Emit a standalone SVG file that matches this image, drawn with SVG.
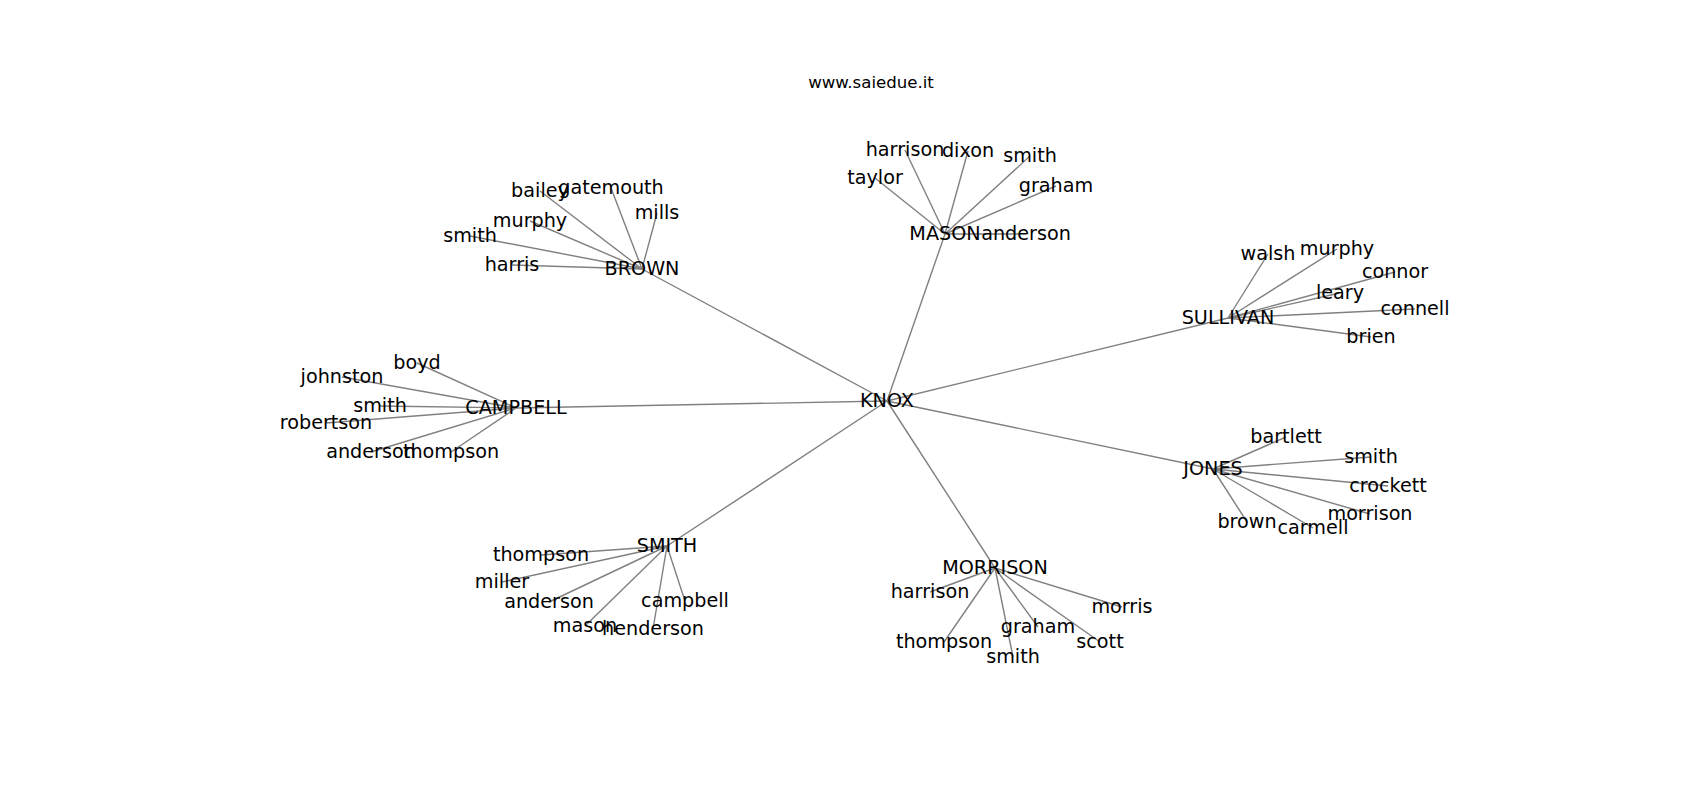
<svg xmlns="http://www.w3.org/2000/svg" width="1700" height="800" viewBox="0 0 1700 800">
<style>
text{font-family:"DejaVu Sans","Liberation Sans",sans-serif;font-size:19.2px;fill:#000;text-anchor:middle}
.title{font-size:16.6px}
#edges line{stroke:#808080;stroke-width:1.4}
</style>
<rect width="1700" height="800" fill="#fff"/>
<text class="title" x="871" y="88">www.saiedue.it</text>
<g id="edges">
<line x1="887" y1="401" x2="642" y2="269"/>
<line x1="887" y1="401" x2="945" y2="234"/>
<line x1="887" y1="401" x2="1228" y2="318"/>
<line x1="887" y1="401" x2="516" y2="408"/>
<line x1="887" y1="401" x2="1213" y2="469"/>
<line x1="887" y1="401" x2="667" y2="546"/>
<line x1="887" y1="401" x2="995" y2="568"/>
<line x1="642" y1="269" x2="540" y2="191"/>
<line x1="642" y1="269" x2="611" y2="188"/>
<line x1="642" y1="269" x2="657" y2="213"/>
<line x1="642" y1="269" x2="530" y2="221"/>
<line x1="642" y1="269" x2="470" y2="236"/>
<line x1="642" y1="269" x2="512" y2="265"/>
<line x1="945" y1="234" x2="905" y2="150"/>
<line x1="945" y1="234" x2="968" y2="151"/>
<line x1="945" y1="234" x2="1030" y2="156"/>
<line x1="945" y1="234" x2="875" y2="178"/>
<line x1="945" y1="234" x2="1056" y2="186"/>
<line x1="945" y1="234" x2="1026" y2="234"/>
<line x1="1228" y1="318" x2="1268" y2="254"/>
<line x1="1228" y1="318" x2="1337" y2="249"/>
<line x1="1228" y1="318" x2="1395" y2="272"/>
<line x1="1228" y1="318" x2="1340" y2="293"/>
<line x1="1228" y1="318" x2="1415" y2="309"/>
<line x1="1228" y1="318" x2="1371" y2="337"/>
<line x1="516" y1="408" x2="417" y2="363"/>
<line x1="516" y1="408" x2="342" y2="377"/>
<line x1="516" y1="408" x2="380" y2="406"/>
<line x1="516" y1="408" x2="326" y2="423"/>
<line x1="516" y1="408" x2="371" y2="452"/>
<line x1="516" y1="408" x2="451" y2="452"/>
<line x1="1213" y1="469" x2="1286" y2="437"/>
<line x1="1213" y1="469" x2="1371" y2="457"/>
<line x1="1213" y1="469" x2="1388" y2="486"/>
<line x1="1213" y1="469" x2="1370" y2="514"/>
<line x1="1213" y1="469" x2="1313" y2="528"/>
<line x1="1213" y1="469" x2="1247" y2="522"/>
<line x1="667" y1="546" x2="541" y2="555"/>
<line x1="667" y1="546" x2="502" y2="582"/>
<line x1="667" y1="546" x2="549" y2="602"/>
<line x1="667" y1="546" x2="585" y2="626"/>
<line x1="667" y1="546" x2="653" y2="629"/>
<line x1="667" y1="546" x2="685" y2="601"/>
<line x1="995" y1="568" x2="930" y2="592"/>
<line x1="995" y1="568" x2="1122" y2="607"/>
<line x1="995" y1="568" x2="944" y2="642"/>
<line x1="995" y1="568" x2="1038" y2="627"/>
<line x1="995" y1="568" x2="1013" y2="657"/>
<line x1="995" y1="568" x2="1100" y2="642"/>
</g>
<g id="knox"><text x="887" y="407">KNOX</text></g>
<g id="brown"><text x="642" y="275">BROWN</text></g>
<g id="mason"><text x="945" y="240">MASON</text></g>
<g id="sullivan"><text x="1228" y="324">SULLIVAN</text></g>
<g id="campbell"><text x="516" y="414">CAMPBELL</text></g>
<g id="jones"><text x="1213" y="475">JONES</text></g>
<g id="smith"><text x="667" y="552">SMITH</text></g>
<g id="morrison"><text x="995" y="574">MORRISON</text></g>
<g id="brown-bailey"><text x="540" y="197">bailey</text></g>
<g id="brown-gatemouth"><text x="611" y="194">gatemouth</text></g>
<g id="brown-mills"><text x="657" y="219">mills</text></g>
<g id="brown-murphy"><text x="530" y="227">murphy</text></g>
<g id="brown-smith"><text x="470" y="242">smith</text></g>
<g id="brown-harris"><text x="512" y="271">harris</text></g>
<g id="mason-harrison"><text x="905" y="156">harrison</text></g>
<g id="mason-dixon"><text x="968" y="157">dixon</text></g>
<g id="mason-smith"><text x="1030" y="162">smith</text></g>
<g id="mason-taylor"><text x="875" y="184">taylor</text></g>
<g id="mason-graham"><text x="1056" y="192">graham</text></g>
<g id="mason-anderson"><text x="1026" y="240">anderson</text></g>
<g id="sullivan-walsh"><text x="1268" y="260">walsh</text></g>
<g id="sullivan-murphy"><text x="1337" y="255">murphy</text></g>
<g id="sullivan-connor"><text x="1395" y="278">connor</text></g>
<g id="sullivan-leary"><text x="1340" y="299">leary</text></g>
<g id="sullivan-connell"><text x="1415" y="315">connell</text></g>
<g id="sullivan-brien"><text x="1371" y="343">brien</text></g>
<g id="campbell-boyd"><text x="417" y="369">boyd</text></g>
<g id="campbell-johnston"><text x="342" y="383">johnston</text></g>
<g id="campbell-smith"><text x="380" y="412">smith</text></g>
<g id="campbell-robertson"><text x="326" y="429">robertson</text></g>
<g id="campbell-anderson"><text x="371" y="458">anderson</text></g>
<g id="campbell-thompson"><text x="451" y="458">thompson</text></g>
<g id="jones-bartlett"><text x="1286" y="443">bartlett</text></g>
<g id="jones-smith"><text x="1371" y="463">smith</text></g>
<g id="jones-crockett"><text x="1388" y="492">crockett</text></g>
<g id="jones-morrison"><text x="1370" y="520">morrison</text></g>
<g id="jones-carmell"><text x="1313" y="534">carmell</text></g>
<g id="jones-brown"><text x="1247" y="528">brown</text></g>
<g id="smith-thompson"><text x="541" y="561">thompson</text></g>
<g id="smith-miller"><text x="502" y="588">miller</text></g>
<g id="smith-anderson"><text x="549" y="608">anderson</text></g>
<g id="smith-mason"><text x="585" y="632">mason</text></g>
<g id="smith-henderson"><text x="653" y="635">henderson</text></g>
<g id="smith-campbell"><text x="685" y="607">campbell</text></g>
<g id="morrison-harrison"><text x="930" y="598">harrison</text></g>
<g id="morrison-morris"><text x="1122" y="613">morris</text></g>
<g id="morrison-thompson"><text x="944" y="648">thompson</text></g>
<g id="morrison-graham"><text x="1038" y="633">graham</text></g>
<g id="morrison-smith"><text x="1013" y="663">smith</text></g>
<g id="morrison-scott"><text x="1100" y="648">scott</text></g>
</svg>
